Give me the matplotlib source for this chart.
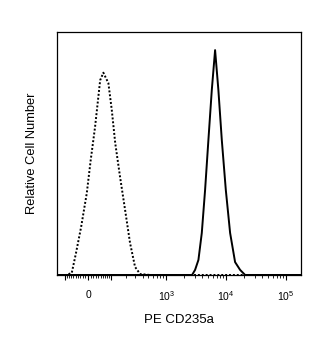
import numpy as np
import matplotlib.pyplot as plt
from matplotlib.ticker import FixedLocator, NullFormatter

plt.rcParams['font.family'] = ['Liberation Sans', 'DejaVu Sans']
plt.rcParams['mathtext.default'] = 'regular'

# isotype control (dotted) - fluorescence vs relative count
ctrl_x = [-150, -95, -67, -48, -27, -5, 10, 27, 48, 62, 86, 104, 124, 156, 195, 240, 295, 361, 535, 177600]
ctrl_y = [0, 0, 0.8, 9.1, 19.8, 33.7, 47.3, 60.9, 80.2, 83.3, 79.0, 67.9, 54.3, 40.3, 26.7, 13.2, 3.3, 0.4, 0, 0]

# PE CD235a stained (solid)
stain_x = [-150, 2705, 3035, 3450, 3925, 4455, 5060, 5760, 6540, 7425, 8460, 9870, 11640, 14090, 17070, 20700, 177600]
stain_y = [0, 0, 2.1, 6.2, 17.3, 35.0, 55.6, 76.1, 92.6, 76.1, 55.6, 35.0, 17.3, 5.3, 2.1, 0, 0]

major_ticks = [-100, 0, 100, 1e3, 1e4, 1e5]
tick_labels = {0: '0', 1e3: '10$^3$', 1e4: '10$^4$', 1e5: '10$^5$'}


def fwd(x):
    return np.arcsinh(np.asarray(x) / 100.0) / np.log(10)


def inv(y):
    return 100.0 * np.sinh(np.asarray(y) * np.log(10))


fig = plt.figure(figsize=(3.2, 3.42), dpi=100)
ax = fig.add_axes([0.178, 0.196, 0.763, 0.710])

ax.plot(ctrl_x, ctrl_y, color='black', lw=1.4, linestyle=(0, (1, 1)), dash_capstyle='butt')
ax.plot(stain_x, stain_y, color='black', lw=1.4)

ax.set_xscale('function', functions=(fwd, inv))
ax.set_xlim(-150, 177600)
ax.set_ylim(0, 100)

# minor ticks: linear part near zero and the log decades
minors = [s * m for s in (-1, 1) for m in range(10, 100, 10)]
minors += [m * 10 ** k for k in (2, 3, 4) for m in range(2, 10)]
ax.xaxis.set_major_locator(FixedLocator(major_ticks))
ax.xaxis.set_minor_locator(FixedLocator(minors))
ax.xaxis.set_minor_formatter(NullFormatter())
ax.set_xticklabels([tick_labels.get(t, '') for t in major_ticks])
ax.tick_params(axis='x', which='major', direction='out', length=3.5, width=0.8, labelsize=7.5, pad=7)
ax.tick_params(axis='x', which='minor', direction='out', length=2, width=0.6)
ax.set_yticks([])

for sp in ax.spines.values():
    sp.set_linewidth(0.9)

ax.set_xlabel('PE CD235a', fontsize=9.5, labelpad=8)
ax.set_ylabel('Relative Cell Number', fontsize=9.3, labelpad=14)

fig.savefig('out.png', dpi=100)
